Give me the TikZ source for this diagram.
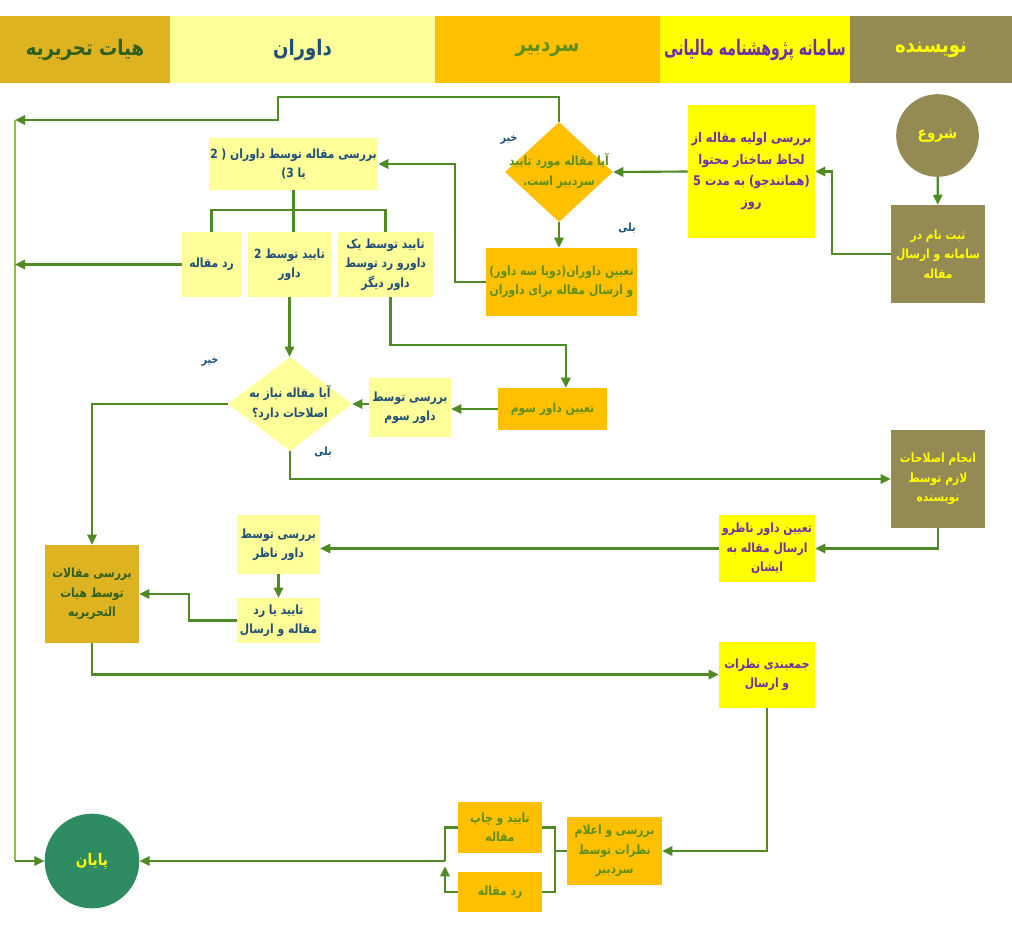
\documentclass[tikz,border=0pt]{standalone}
\usepackage{fontspec}
\usetikzlibrary{arrows.meta,shapes.geometric,calc}
\TeXXeTstate=1
\newfontfamily\fa[Script=Arabic,FakeStretch=0.85]{DejaVu Sans}
\newfontfamily\fah[Script=Arabic,FakeStretch=0.66]{DejaVu Sans}
\newcommand{\fx}[1]{\beginR #1\endR}
\definecolor{khaki}{HTML}{948A54}
\definecolor{gold}{HTML}{DDB321}
\definecolor{lyel}{HTML}{FFFF99}
\definecolor{yel}{HTML}{FFFF00}
\definecolor{orng}{HTML}{FFC000}
\definecolor{endg}{HTML}{2E8B62}
\definecolor{lgr}{HTML}{4F8A25}
\definecolor{lgr2}{HTML}{8CC152}
\definecolor{tpur}{HTML}{7030A0}
\definecolor{tblu}{HTML}{1F4E79}
\definecolor{tgrn}{HTML}{5F8F1A}
\definecolor{tdgr}{HTML}{2F5F1F}
\tikzset{
 box/.style={rectangle, inner sep=1pt, align=center, font=\fa\bfseries\fontsize{9.5}{14.5}\selectfont},
 hdr/.style={rectangle, inner sep=0pt, minimum height=50.25pt, font=\fa\bfseries\fontsize{16}{18}\selectfont},
 dia/.style={diamond, inner sep=0pt},
 lbl/.style={font=\fa\bfseries\fontsize{8.5}{10}\selectfont, text=tblu, inner sep=0pt},
 conn/.style={draw=lgr, line width=1.6pt},
 arr/.style={conn, -{Triangle[length=7.5pt,width=7pt]}},
 thinl/.style={draw=lgr2, line width=0.8pt},
}
\begin{document}
\begin{tikzpicture}[x=0.75pt,y=-0.75pt]
\fill[white] (0,0) rectangle (1012,932);
\useasboundingbox (0,0) rectangle (1012,932);
% headers
\node[hdr, fill=gold, minimum width=127.5pt, text=tdgr] (h1) at (85,49.5) {\fx{هیات تحریریه}};
\node[hdr, fill=lyel, minimum width=198.75pt, text=tblu] (h2) at (302.5,49.5) {\fx{داوران}};
\node[hdr, fill=orng, minimum width=168.75pt, text=tgrn] (h3) at (547.5,49.5) {\fx{سردبیر}};
\node[hdr, fill=yel, minimum width=142.5pt, text=tpur, font=\fah\bfseries\fontsize{16}{18}\selectfont] (h4) at (755,49.5) {\fx{سامانه پژوهشنامه مالیانی}};
\node[hdr, fill=khaki, minimum width=121.5pt, text=yel] (h5) at (931,49.5) {\fx{نویسنده}};
% nodes
\node[box, circle, fill=khaki, text=yel, minimum size=62pt, font=\fa\bfseries\fontsize{12}{14}\selectfont] (start) at (937.5,135.5) {\fx{شروع}};
\node[box, fill=khaki, text=yel, minimum width=70.5pt, minimum height=73.5pt] (reg) at (938,254) {\fx{ثبت نام در}\\\fx{سامانه و ارسال}\\\fx{مقاله}};
\node[box, fill=yel, text=tpur, minimum width=95.25pt, minimum height=99.75pt, font=\fa\bfseries\fontsize{10}{16}\selectfont] (init) at (751.5,171.5) {\fx{بررسی اولیه مقاله از}\\\fx{لحاظ ساختار محتوا}\\\fx{(همانندجو) به مدت 5}\\\fx{روز}};
\node[dia, fill=orng, minimum width=81pt, minimum height=75pt] (d1) at (559,172) {};
\node[box, text=tgrn] (d1t) at (559,171) {\fx{آیا مقاله مورد تایید}\\\fx{سردبیر است.}};
\node[lbl] (no1) at (509,140) {\fx{خیر}};
\node[lbl] (yes1) at (627,228) {\fx{بلی}};
\node[box, fill=orng, text=tgrn, minimum width=113.25pt, minimum height=51pt] (assign) at (561.5,282) {\fx{تعیین داوران(دویا سه داور)}\\\fx{و ارسال مقاله برای داوران}};
\node[box, fill=lyel, text=tblu, minimum width=125.25pt, minimum height=39pt] (rev) at (293.5,164) {\fx{بررسی مقاله توسط داوران ( 2}\\\fx{یا 3)}};
\node[box, fill=lyel, text=tblu, minimum width=44.25pt, minimum height=48.75pt] (rej1) at (211.5,264.5) {\fx{رد مقاله}};
\node[box, fill=lyel, text=tblu, minimum width=62.25pt, minimum height=48.75pt] (acc2) at (289.5,264.5) {\fx{تایید توسط 2}\\\fx{داور}};
\node[box, fill=lyel, text=tblu, minimum width=71.25pt, minimum height=48.75pt] (mix) at (385.5,264.5) {\fx{تایید توسط یک}\\\fx{داورو رد توسط}\\\fx{داور دیگر}};
\node[dia, fill=lyel, minimum width=93pt, minimum height=70.5pt] (d2) at (290,404) {};
\node[box, text=tblu] (d2t) at (290,403) {\fx{آیا مقاله نیاز به}\\\fx{اصلاحات دارد؟}};
\node[lbl] (no2) at (210,362) {\fx{خیر}};
\node[lbl] (yes2) at (323,452) {\fx{بلی}};
\node[box, fill=lyel, text=tblu, minimum width=61.5pt, minimum height=44.25pt] (third) at (410,407.5) {\fx{بررسی توسط}\\\fx{داور سوم}};
\node[box, fill=orng, text=tgrn, minimum width=81.75pt, minimum height=31.5pt] (asg3) at (552.5,409) {\fx{تعیین داور سوم}};
\node[box, fill=khaki, text=yel, minimum width=70.5pt, minimum height=73.5pt] (fix) at (938,479) {\fx{انجام اصلاحات}\\\fx{لازم توسط}\\\fx{نویسنده}};
\node[box, fill=yel, text=tpur, minimum width=72pt, minimum height=50.25pt] (sup) at (767,548.5) {\fx{تعیین داور ناظرو}\\\fx{ارسال مقاله به}\\\fx{ایشان}};
\node[box, fill=lyel, text=tblu, minimum width=62.25pt, minimum height=44.25pt] (supr) at (278.5,544.5) {\fx{بررسی توسط}\\\fx{داور ناظر}};
\node[box, fill=lyel, text=tblu, minimum width=62.25pt, minimum height=33.75pt] (supd) at (278.5,620.5) {\fx{تایید یا رد}\\\fx{مقاله و ارسال}};
\node[box, fill=gold, text=tdgr, minimum width=70.5pt, minimum height=73.5pt] (board) at (92,594) {\fx{بررسی مقالات}\\\fx{توسط هیات}\\\fx{التحریریه}};
\node[box, fill=yel, text=tpur, minimum width=72pt, minimum height=49.5pt] (summ) at (767,674.5) {\fx{جمعبندی نظرات}\\\fx{و ارسال}};
\node[box, fill=orng, text=tgrn, minimum width=71.25pt, minimum height=51pt] (edit) at (614.5,851) {\fx{بررسی و اعلام}\\\fx{نظرات توسط}\\\fx{سردبیر}};
\node[box, fill=orng, text=tgrn, minimum width=63pt, minimum height=38.25pt] (pub) at (500,827.5) {\fx{تایید و چاپ}\\\fx{مقاله}};
\node[box, fill=orng, text=tgrn, minimum width=63pt, minimum height=30pt] (rej2) at (500,892) {\fx{رد مقاله}};
\node[box, circle, fill=endg, text=yel, minimum size=71pt, font=\fa\bfseries\fontsize{12}{14}\selectfont] (end) at (92,861) {\fx{پایان}};
% coordinates
\coordinate (L1) at (15,120);
\coordinate (L2) at (15,861);
\coordinate (L3) at (15,264.5);
\coordinate (t1) at (278,97);
\coordinate (br) at (293.5,210);
\coordinate (j1) at (555,851);
\coordinate (j2) at (445,861);
% connectors
\draw[thinl] (L1) -- (L2);
\draw[arr] (L2) -- (end.west);
\draw[arr] (start) -- (reg);
\draw[arr] (reg.west) -- ++(-59,0) |- (init.east);
\draw[arr] (init.west) -- (d1.east);
\draw[arr] (d1.south) -- (d1.south |- assign.north);
\draw[arr] (d1.north) |- (t1) |- (L1);
\draw[arr] (assign.west) -- ++(-31,0) |- (rev.east);
\draw[arr] (rej1.west) -- (L3);
\draw[conn] (rev.south) -- (rev.south |- acc2.north);
\draw[conn] (br) -| (rej1.north);
\draw[conn] (br) -| (mix.north);
\draw[arr] (acc2.south) -- (acc2.south |- d2.north);
\draw[arr] ([xshift=3.75pt]mix.south) -- ++(0,48) -| ([xshift=10pt]asg3.north);
\draw[arr] (asg3.west) -- (asg3.west -| third.east);
\draw[arr] (third.west |- d2.east) -- (d2.east);
\draw[arr] (d2.west) -| (board.north);
\draw[arr] (d2.south) |- (fix.west);
\draw[arr] (fix.south) |- (sup.east);
\draw[arr] (sup.west) -- (sup.west -| supr.east);
\draw[arr] (supr.south) -- (supd.north);
\draw[arr] (supd.west) -- ++(-48,0) |- (board.east);
\draw[arr] (board.south) |- (summ.west);
\draw[arr] (summ.south) |- (edit.east);
\draw[conn] (edit.west) -- (j1);
\draw[conn] (j1) |- (pub.east);
\draw[conn] (j1) |- (rej2.east);
\draw[conn] (pub.west) -| (j2);
\draw[arr] (rej2.west) -| ([yshift=-4pt]j2);
\draw[arr] (j2) -- (end.east);
\end{tikzpicture}
\end{document}
